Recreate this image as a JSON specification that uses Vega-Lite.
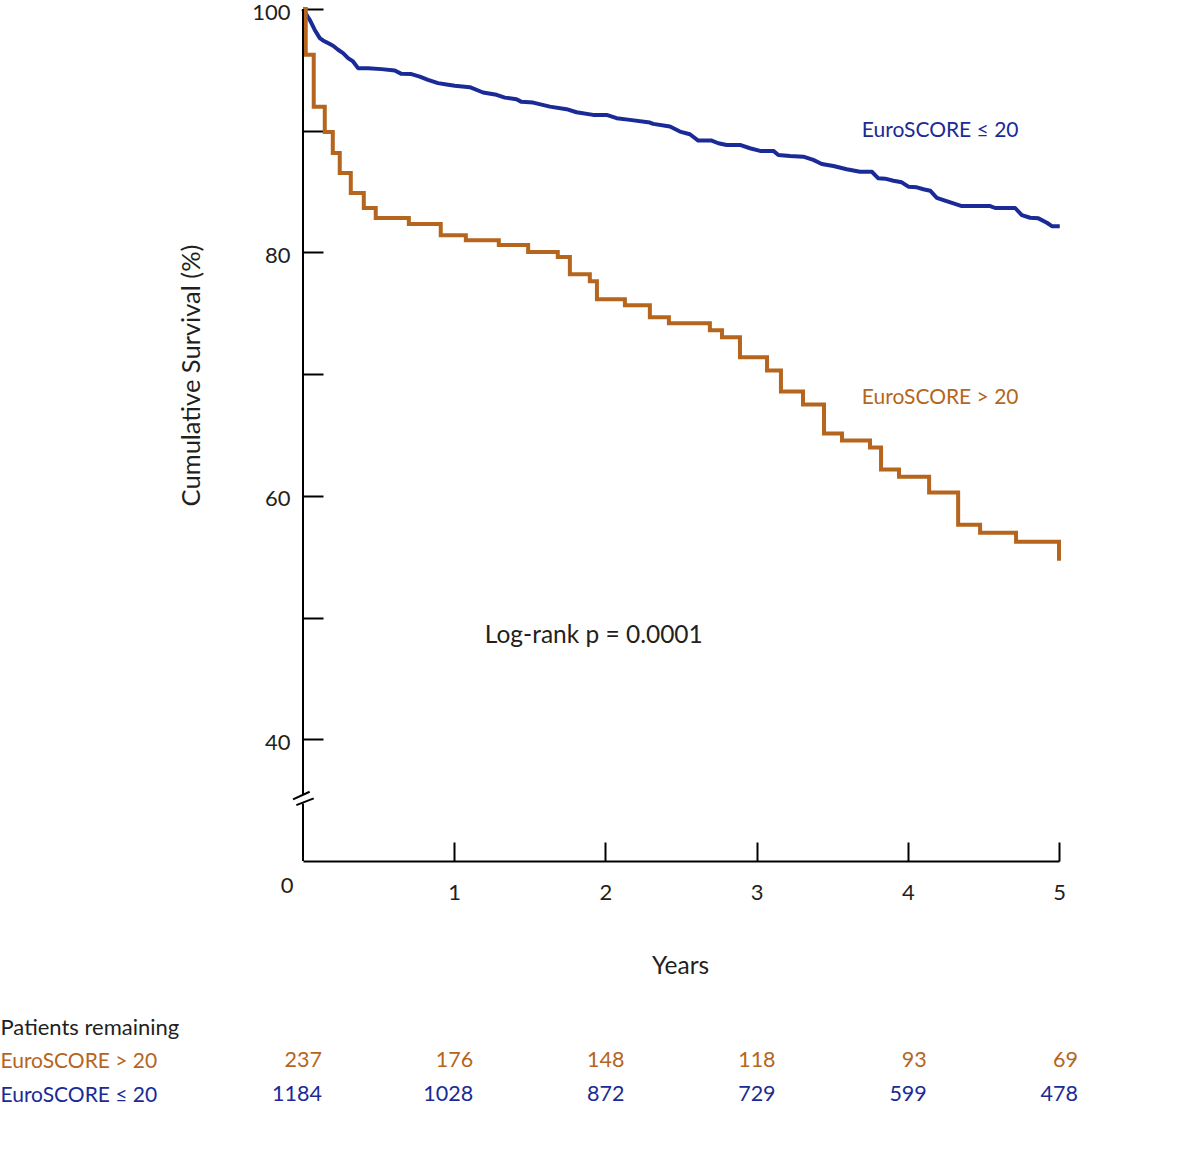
{
  "$schema": "https://vega.github.io/schema/vega-lite/v6.json",
  "width": 756,
  "height": 852,
  "autosize": {"type": "none"},
  "padding": {"left": 303, "top": 9, "right": 141, "bottom": 290},
  "background": "white",
  "config": {"view": {"stroke": null}, "font": "Lato"},
  "datasets": {
    "blue": [
      {"t": 0, "v": 100}, {"t": 0.044, "v": 99.12}, {"t": 0.077, "v": 98.3}, {"t": 0.111, "v": 97.61},
      {"t": 0.132, "v": 97.42}, {"t": 0.165, "v": 97.2}, {"t": 0.199, "v": 96.98}, {"t": 0.232, "v": 96.65},
      {"t": 0.265, "v": 96.38}, {"t": 0.298, "v": 95.97}, {"t": 0.331, "v": 95.69}, {"t": 0.364, "v": 95.14},
      {"t": 0.43, "v": 95.14}, {"t": 0.519, "v": 95.06}, {"t": 0.607, "v": 94.95}, {"t": 0.651, "v": 94.67},
      {"t": 0.717, "v": 94.65}, {"t": 0.772, "v": 94.45}, {"t": 0.827, "v": 94.18}, {"t": 0.893, "v": 93.91},
      {"t": 0.96, "v": 93.77}, {"t": 1.004, "v": 93.69}, {"t": 1.103, "v": 93.58}, {"t": 1.191, "v": 93.14},
      {"t": 1.28, "v": 92.95}, {"t": 1.335, "v": 92.72}, {"t": 1.412, "v": 92.59}, {"t": 1.445, "v": 92.37},
      {"t": 1.522, "v": 92.31}, {"t": 1.633, "v": 91.98}, {"t": 1.743, "v": 91.77}, {"t": 1.809, "v": 91.52},
      {"t": 1.919, "v": 91.3}, {"t": 2.008, "v": 91.3}, {"t": 2.074, "v": 91.03}, {"t": 2.162, "v": 90.89},
      {"t": 2.294, "v": 90.67}, {"t": 2.316, "v": 90.56}, {"t": 2.427, "v": 90.34}, {"t": 2.493, "v": 89.93},
      {"t": 2.559, "v": 89.71}, {"t": 2.614, "v": 89.19}, {"t": 2.703, "v": 89.19}, {"t": 2.747, "v": 88.97},
      {"t": 2.802, "v": 88.83}, {"t": 2.89, "v": 88.83}, {"t": 2.956, "v": 88.56}, {"t": 3.023, "v": 88.34},
      {"t": 3.111, "v": 88.34}, {"t": 3.144, "v": 88.01}, {"t": 3.221, "v": 87.93}, {"t": 3.309, "v": 87.87},
      {"t": 3.375, "v": 87.6}, {"t": 3.431, "v": 87.27}, {"t": 3.508, "v": 87.1}, {"t": 3.596, "v": 86.83},
      {"t": 3.684, "v": 86.63}, {"t": 3.762, "v": 86.63}, {"t": 3.805, "v": 86.09}, {"t": 3.85, "v": 86.06},
      {"t": 3.905, "v": 85.89}, {"t": 3.96, "v": 85.76}, {"t": 4.004, "v": 85.4}, {"t": 4.06, "v": 85.35},
      {"t": 4.103, "v": 85.19}, {"t": 4.148, "v": 85.07}, {"t": 4.192, "v": 84.49}, {"t": 4.236, "v": 84.3},
      {"t": 4.302, "v": 84.03}, {"t": 4.357, "v": 83.81}, {"t": 4.545, "v": 83.81}, {"t": 4.578, "v": 83.65},
      {"t": 4.71, "v": 83.65}, {"t": 4.754, "v": 83.07}, {"t": 4.809, "v": 82.85}, {"t": 4.864, "v": 82.8},
      {"t": 4.92, "v": 82.44}, {"t": 4.953, "v": 82.16}, {"t": 5.005, "v": 82.16}
    ],
    "orange": [
      {"t": 0, "v": 100}, {"t": 0.018, "v": 96.24}, {"t": 0.071, "v": 91.96}, {"t": 0.144, "v": 89.9},
      {"t": 0.197, "v": 88.17}, {"t": 0.243, "v": 86.53}, {"t": 0.316, "v": 84.88}, {"t": 0.402, "v": 83.65},
      {"t": 0.481, "v": 82.83}, {"t": 0.7, "v": 82.33}, {"t": 0.911, "v": 81.42}, {"t": 1.077, "v": 81.0},
      {"t": 1.295, "v": 80.61}, {"t": 1.489, "v": 80.03}, {"t": 1.685, "v": 79.62}, {"t": 1.765, "v": 78.21},
      {"t": 1.897, "v": 77.64}, {"t": 1.944, "v": 76.16}, {"t": 2.129, "v": 75.67}, {"t": 2.294, "v": 74.68},
      {"t": 2.42, "v": 74.19}, {"t": 2.691, "v": 73.61}, {"t": 2.771, "v": 73.03}, {"t": 2.89, "v": 71.39},
      {"t": 3.069, "v": 70.3}, {"t": 3.161, "v": 68.58}, {"t": 3.307, "v": 67.51}, {"t": 3.446, "v": 65.12},
      {"t": 3.565, "v": 64.55}, {"t": 3.75, "v": 63.97}, {"t": 3.823, "v": 62.16}, {"t": 3.942, "v": 61.58},
      {"t": 4.141, "v": 60.27}, {"t": 4.333, "v": 57.63}, {"t": 4.478, "v": 56.97}, {"t": 4.716, "v": 56.23},
      {"t": 5.0, "v": 54.67}
    ],
    "axisSegs": [
      {"x": 0, "y": 100, "x2": 0, "y2": 35.43},
      {"x": 0, "y": 34.72, "x2": 0, "y2": 30},
      {"x": -0.066, "y": 35.06, "x2": 0.044, "y2": 35.69},
      {"x": -0.044, "y": 34.59, "x2": 0.071, "y2": 35.14}
    ],
    "notes": [
      {"label": "EuroSCORE ≤ 20", "t": 3.696, "v": 89.47, "series": "EuroSCORE ≤ 20", "size": 21},
      {"label": "EuroSCORE > 20", "t": 3.696, "v": 67.51, "series": "EuroSCORE > 20", "size": 21},
      {"label": "Log-rank p = 0.0001", "t": 1.2025, "v": 47.93, "series": "note", "size": 24.5}
    ],
    "table": [
      {"row": "EuroSCORE > 20", "series": "EuroSCORE > 20", "year": 0, "n": 237},
      {"row": "EuroSCORE > 20", "series": "EuroSCORE > 20", "year": 1, "n": 176},
      {"row": "EuroSCORE > 20", "series": "EuroSCORE > 20", "year": 2, "n": 148},
      {"row": "EuroSCORE > 20", "series": "EuroSCORE > 20", "year": 3, "n": 118},
      {"row": "EuroSCORE > 20", "series": "EuroSCORE > 20", "year": 4, "n": 93},
      {"row": "EuroSCORE > 20", "series": "EuroSCORE > 20", "year": 5, "n": 69},
      {"row": "EuroSCORE ≤ 20", "series": "EuroSCORE ≤ 20", "year": 0, "n": 1184},
      {"row": "EuroSCORE ≤ 20", "series": "EuroSCORE ≤ 20", "year": 1, "n": 1028},
      {"row": "EuroSCORE ≤ 20", "series": "EuroSCORE ≤ 20", "year": 2, "n": 872},
      {"row": "EuroSCORE ≤ 20", "series": "EuroSCORE ≤ 20", "year": 3, "n": 729},
      {"row": "EuroSCORE ≤ 20", "series": "EuroSCORE ≤ 20", "year": 4, "n": 599},
      {"row": "EuroSCORE ≤ 20", "series": "EuroSCORE ≤ 20", "year": 5, "n": 478}
    ]
  },
  "layer": [
    {
      "layer": [
        {
          "data": {"name": "blue"},
          "mark": {"type": "line", "color": "#1a2a96", "strokeWidth": 4, "strokeJoin": "round"},
          "encoding": {
            "x": {
              "field": "t", "type": "quantitative",
              "scale": {"domain": [0, 5], "nice": false, "zero": false},
              "axis": {
                "values": [1, 2, 3, 4, 5], "format": "d", "grid": false,
                "domain": true, "domainColor": "#000000", "domainWidth": 2,
                "ticks": true, "tickSize": -19, "tickWidth": 2, "tickColor": "#000000",
                "labelPadding": 40, "labelFont": "Lato", "labelFontSize": 22, "labelColor": "#231f20",
                "labelBaseline": "top", "labelFlush": false,
                "title": "Years", "titleFont": "Lato", "titleFontSize": 24.5, "titleFontWeight": "normal",
                "titleColor": "#231f20", "titleX": 377, "titleY": 112, "titleBaseline": "alphabetic", "titleAlign": "center"
              }
            },
            "y": {
              "field": "v", "type": "quantitative",
              "scale": {"domain": [30, 100], "nice": false, "zero": false},
              "axis": {
                "values": [40, 50, 60, 70, 80, 90, 100], "grid": false, "domain": false,
                "ticks": true, "tickSize": -20, "tickWidth": 2, "tickColor": "#000000",
                "labelPadding": 33, "labelOffset": 3, "labelFont": "Lato", "labelFontSize": 22, "labelColor": "#231f20",
                "labelExpr": "datum.value % 20 == 0 ? datum.label : ''", "labelFlush": false,
                "title": "Cumulative Survival (%)", "titleFont": "Lato", "titleFontSize": 25.5,
                "titleFontWeight": "normal", "titleColor": "#231f20", "titleAngle": 270,
                "titleX": -104, "titleY": 366, "titleBaseline": "alphabetic", "titleAlign": "center"
              }
            }
          }
        },
        {
          "data": {"name": "orange"},
          "mark": {"type": "line", "interpolate": "step-after", "color": "#b5651d", "strokeWidth": 4, "strokeJoin": "miter"},
          "encoding": {
            "x": {"field": "t", "type": "quantitative"},
            "y": {"field": "v", "type": "quantitative"}
          }
        },
        {
          "data": {"name": "axisSegs"},
          "mark": {"type": "rule", "color": "#000000", "strokeWidth": 2},
          "encoding": {
            "x": {"field": "x", "type": "quantitative"},
            "y": {"field": "y", "type": "quantitative"},
            "x2": {"field": "x2"},
            "y2": {"field": "y2"}
          }
        },
        {
          "data": {"name": "notes"},
          "mark": {"type": "text", "align": "left", "baseline": "alphabetic", "font": "Lato"},
          "encoding": {
            "x": {"field": "t", "type": "quantitative"},
            "y": {"field": "v", "type": "quantitative"},
            "text": {"field": "label"},
            "size": {"field": "size", "type": "quantitative", "scale": null},
            "color": {
              "field": "series", "type": "nominal",
              "scale": {"domain": ["EuroSCORE > 20", "EuroSCORE ≤ 20", "note"], "range": ["#b5651d", "#1a2a96", "#231f20"]},
              "legend": null
            }
          }
        },
        {
          "data": {"values": [{"label": "0"}]},
          "mark": {"type": "text", "fontSize": 22, "font": "Lato", "dx": -16, "dy": 25, "color": "#231f20", "align": "center", "baseline": "middle"},
          "encoding": {
            "x": {"datum": 0, "type": "quantitative"},
            "y": {"datum": 30, "type": "quantitative"},
            "text": {"field": "label"}
          }
        }
      ]
    },
    {
      "data": {"name": "table"},
      "mark": {"type": "text", "align": "right", "baseline": "middle", "dx": 19, "fontSize": 21.5, "font": "Lato"},
      "encoding": {
        "x": {"field": "year", "type": "quantitative"},
        "y": {
          "field": "row", "type": "nominal",
          "scale": {"type": "point", "domain": ["Patients remaining", "EuroSCORE > 20", "EuroSCORE ≤ 20"], "range": [1018, 1086], "padding": 0},
          "axis": {
            "orient": "left", "domain": false, "ticks": false, "grid": false,
            "labelAlign": "left", "labelBaseline": "middle", "labelPadding": 303,
            "labelFont": "Lato",
            "labelFontSize": {"expr": "datum.value == 'Patients remaining' ? 22 : 21"},
            "labelColor": {"expr": "datum.value == 'EuroSCORE > 20' ? '#b5651d' : (datum.value == 'Patients remaining' ? '#231f20' : '#1a2a96')"},
            "title": null
          }
        },
        "text": {"field": "n"},
        "color": {
          "field": "series", "type": "nominal",
          "scale": {"domain": ["EuroSCORE > 20", "EuroSCORE ≤ 20", "note"], "range": ["#b5651d", "#1a2a96", "#231f20"]},
          "legend": null
        }
      }
    }
  ],
  "resolve": {"scale": {"y": "independent"}}
}
